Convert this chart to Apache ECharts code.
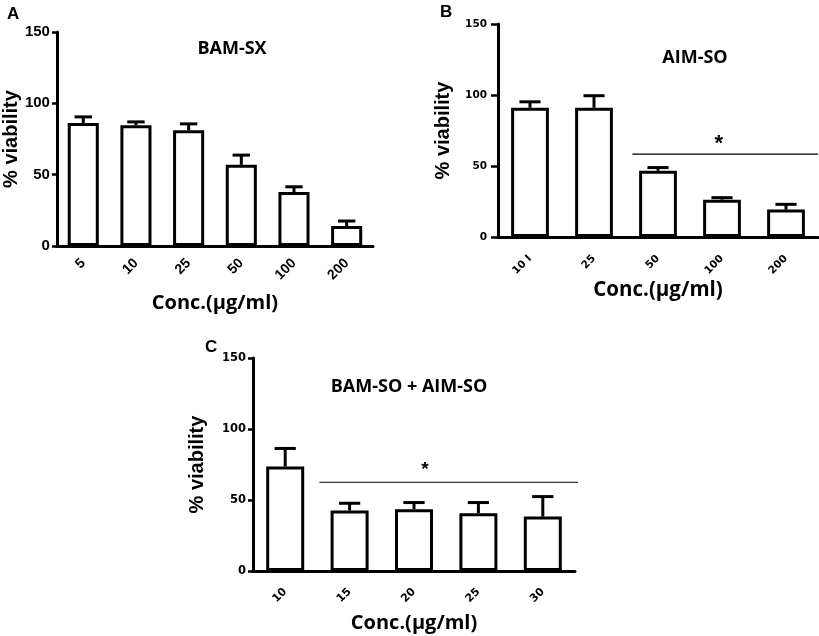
<!DOCTYPE html>
<html>
<head>
<meta charset="utf-8">
<style>html,body{margin:0;padding:0;background:#fff;}#c{width:819px;height:636px;}</style>
<script src="https://cdn.jsdelivr.net/npm/echarts@6/dist/echarts.min.js"></script>
</head>
<body>
<div id="c"></div>
<script>
// Panel A: BAM-SX
var catsA = ['5', '10', '25', '50', '100', '200'];
var meanA = [86.3, 84.7, 81.2, 56.9, 37.8, 14.0];
var upperA = [90.5, 87.0, 85.6, 63.7, 41.5, 17.5];
// Panel B: AIM-SO
var catsB = ['10 I', '25', '50', '100', '200'];
var meanB = [91.0, 91.0, 46.6, 26.3, 19.3];
var upperB = [95.2, 99.5, 48.9, 27.7, 23.0];
var sigB = {from: 2, to: 4, level: 58.3, star: 2.95};
// Panel C: BAM-SO + AIM-SO
var catsC = ['10', '15', '20', '25', '30'];
var meanC = [73.6, 42.6, 43.5, 40.7, 38.3];
var upperC = [86.3, 47.7, 48.2, 48.2, 52.4];
var sigC = {from: 1, to: 4, level: 62.5, star: 2.17};
var yTicks = [0, 50, 100, 150];

var chart = echarts.init(document.getElementById('c'), null, {renderer: 'canvas'});

function errData(means, uppers) {
  return means.map(function (m, i) { return [i, m, uppers[i]]; });
}
function errRender(params, api) {
  var i = api.value(0);
  var base = api.coord([i, api.value(1)]);
  var top = api.coord([i, api.value(2)]);
  var band = api.size([1, 0])[0];
  var hw = band * 0.165;
  var st = {stroke: '#000', lineWidth: 3};
  return {type: 'group', children: [
    {type: 'line', shape: {x1: top[0], y1: top[1], x2: base[0], y2: base[1]}, style: st},
    {type: 'line', shape: {x1: top[0] - hw, y1: top[1], x2: top[0] + hw, y2: top[1]}, style: st}
  ]};
}
function sigRender(startFrac, endExtra, starSize, starRise) {
  return function (params, api) {
    var from = api.value(0);
    var a = api.coord([from, api.value(2)]);
    var b = api.coord([api.value(1), api.value(2)]);
    var band = api.size([1, 0])[0];
    var x1 = a[0] - band * startFrac;
    var x2 = b[0] + band * 0.5 + endExtra;
    var sx = a[0] + (api.value(3) - from) * band;
    return {type: 'group', children: [
      {type: 'line', shape: {x1: x1, y1: a[1], x2: x2, y2: a[1]}, style: {stroke: '#000', lineWidth: 1.2}},
      {type: 'text', x: sx, y: a[1] - starRise, style: {text: '*', fill: '#000', font: 'bold ' + starSize + 'px "Liberation Sans"', textAlign: 'center', textVerticalAlign: 'middle'}}
    ]};
  };
}

function xAxisCfg(idx, cats, fontSize, fontFamily, margin, nameGap, nameSize) {
  return {
    type: 'category', gridIndex: idx, data: cats,
    axisLine: {lineStyle: {color: '#000', width: 3}},
    axisTick: {alignWithLabel: true, length: 6, lineStyle: {color: '#000', width: 2.5}},
    axisLabel: {rotate: 45, margin: margin, color: '#000', fontWeight: 'bold', fontSize: fontSize, fontFamily: fontFamily},
    name: 'Conc.(µg/ml)', nameLocation: 'middle', nameGap: nameGap,
    nameTextStyle: {color: '#000', fontWeight: 'bold', fontSize: nameSize, fontFamily: 'Open Sans', verticalAlign: 'top'}
  };
}
function yAxisCfg(idx, fontSize, fontFamily, margin, tickLen, nameGap) {
  return {
    type: 'value', gridIndex: idx, min: yTicks[0], max: yTicks[yTicks.length - 1], interval: 50,
    axisLine: {show: true, lineStyle: {color: '#000', width: 3}},
    axisTick: {show: true, length: tickLen, lineStyle: {color: '#000', width: 2.5}},
    splitLine: {show: false},
    axisLabel: {margin: margin, color: '#000', fontWeight: 'bold', fontSize: fontSize, fontFamily: fontFamily},
    name: '% viability', nameLocation: 'middle', nameGap: nameGap, nameRotate: 90,
    nameTextStyle: {color: '#000', fontWeight: 'bold', fontSize: 20, fontFamily: 'Liberation Sans'}
  };
}
function barCfg(idx, vals) {
  return {
    type: 'bar', xAxisIndex: idx, yAxisIndex: idx, data: vals, barWidth: '59%',
    itemStyle: {color: '#fff', borderColor: '#000', borderWidth: 3}, z: 2, silent: true
  };
}

var option = {
  animation: false,
  backgroundColor: '#fff',
  title: [
    {text: 'A', left: 2, top: 1, textStyle: {fontSize: 17, fontWeight: 'bold', fontFamily: 'Liberation Sans', color: '#000'}},
    {text: 'B', left: 435, top: -1, textStyle: {fontSize: 17, fontWeight: 'bold', fontFamily: 'Liberation Sans', color: '#000'}},
    {text: 'C', left: 200, top: 334, textStyle: {fontSize: 17, fontWeight: 'bold', fontFamily: 'Liberation Sans', color: '#000'}},
    {text: 'BAM-SX', left: 227, top: 35, textAlign: 'center', textStyle: {fontSize: 18, fontWeight: 'bold', fontFamily: 'Open Sans', color: '#000'}},
    {text: 'AIM-SO', left: 690, top: 44, textAlign: 'center', textStyle: {fontSize: 18, fontWeight: 'bold', fontFamily: 'Open Sans', color: '#000'}},
    {text: 'BAM-SO + AIM-SO', left: 404, top: 373, textAlign: 'center', textStyle: {fontSize: 18, fontWeight: 'bold', fontFamily: 'Open Sans', color: '#000'}}
  ],
  grid: [
    {left: 52, width: 321, top: 32, height: 214},
    {left: 498, width: 320, top: 24, height: 213},
    {left: 253, width: 322, top: 358, height: 213}
  ],
  xAxis: [
    xAxisCfg(0, catsA, 14, 'Liberation Sans', 15, 47, 20),
    xAxisCfg(1, catsB, 10.5, 'DejaVu Sans', 20, 43, 20.5),
    xAxisCfg(2, catsC, 11, 'DejaVu Sans', 19, 42, 20)
  ],
  yAxis: [
    yAxisCfg(0, 15, 'Liberation Sans', 7, 5, 34),
    yAxisCfg(1, 10.5, 'DejaVu Sans', 11, 7, 45),
    yAxisCfg(2, 11.5, 'DejaVu Sans', 7, 5, 46)
  ],
  series: [
    barCfg(0, meanA),
    {type: 'custom', xAxisIndex: 0, yAxisIndex: 0, data: errData(meanA, upperA), renderItem: errRender, z: 3, silent: true},
    barCfg(1, meanB),
    {type: 'custom', xAxisIndex: 1, yAxisIndex: 1, data: errData(meanB, upperB), renderItem: errRender, z: 3, silent: true},
    {type: 'custom', xAxisIndex: 1, yAxisIndex: 1, data: [[sigB.from, sigB.to, sigB.level, sigB.star]], renderItem: sigRender(0.4, 0, 22, 10), z: 3, silent: true},
    barCfg(2, meanC),
    {type: 'custom', xAxisIndex: 2, yAxisIndex: 2, data: errData(meanC, upperC), renderItem: errRender, z: 3, silent: true},
    {type: 'custom', xAxisIndex: 2, yAxisIndex: 2, data: [[sigC.from, sigC.to, sigC.level, sigC.star]], renderItem: sigRender(0.47, 3, 19, 12), z: 3, silent: true}
  ]
};
chart.setOption(option);
</script>
</body>
</html>
